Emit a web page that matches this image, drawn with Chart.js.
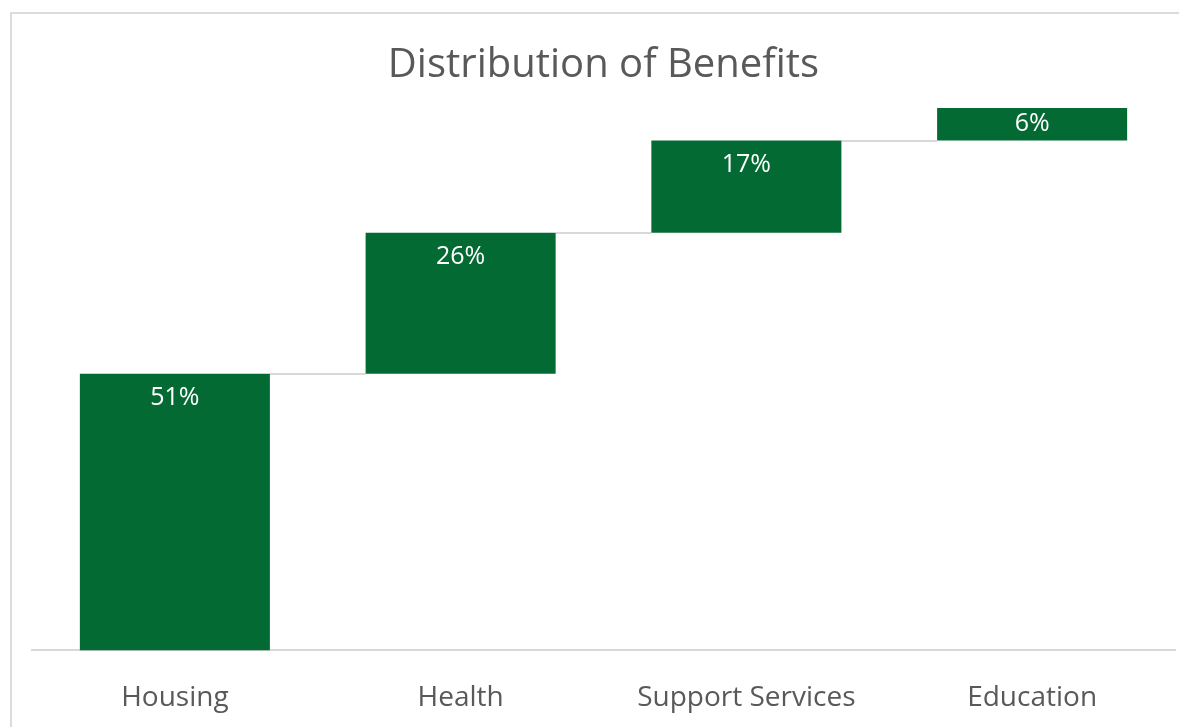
<!DOCTYPE html>
<html>
<head>
<meta charset="utf-8">
<script src="https://cdn.jsdelivr.net/npm/chart.js@4/dist/chart.umd.min.js"></script>
<style>
  html, body { margin: 0; padding: 0; background: #fff; overflow: hidden; }
  #frame { position: absolute; left: 10px; top: 12px; width: 1300px; height: 900px; border: 2px solid #dcdcdc; box-sizing: border-box; }
  #wrap { position: absolute; left: 0; top: 0; width: 1179px; height: 727px; }
</style>
</head>
<body>
<div id="frame"></div>
<div id="wrap"><canvas id="c" width="1179" height="727"></canvas></div>
<script>
const titleText = "Distribution of Benefits";
const categories = ["Housing", "Health", "Support Services", "Education"];
const values = [51, 26, 17, 6];

const barColor = "#036a34";
const textGray = "#595959";
const lineGray = "#d9d9d9";
const fontFamily = "'Open Sans', 'Noto Sans', sans-serif";

// floating ranges from cumulative sums
const ranges = [];
let acc = 0;
for (const v of values) { ranges.push([acc, acc + v]); acc += v; }

const connectorPlugin = {
  id: 'connectors',
  beforeDatasetsDraw(chart) {
    const meta = chart.getDatasetMeta(0);
    const ys = chart.scales.y;
    const ctx = chart.ctx;
    ctx.save();
    ctx.strokeStyle = lineGray;
    ctx.lineWidth = 2;
    for (let i = 0; i < meta.data.length - 1; i++) {
      const a = meta.data[i], b = meta.data[i + 1];
      const y = Math.round(ys.getPixelForValue(ranges[i][1]));
      ctx.beginPath();
      ctx.moveTo(a.x + a.width / 2, y);
      ctx.lineTo(b.x - b.width / 2, y);
      ctx.stroke();
    }
    ctx.restore();
  }
};

const labelPlugin = {
  id: 'barLabels',
  afterDatasetsDraw(chart) {
    const meta = chart.getDatasetMeta(0);
    const ys = chart.scales.y;
    const ctx = chart.ctx;
    ctx.save();
    ctx.fillStyle = "#ffffff";
    ctx.font = "25px " + fontFamily;
    ctx.textAlign = "center";
    ctx.textBaseline = "middle";
    meta.data.forEach((el, i) => {
      const top = ys.getPixelForValue(ranges[i][1]);
      const h = ys.getPixelForValue(ranges[i][0]) - top;
      const off = Math.min(24, h / 2);
      ctx.fillText(values[i] + "%", el.x, top + off);
    });
    ctx.restore();
  }
};

new Chart(document.getElementById('c'), {
  type: 'bar',
  data: {
    labels: categories,
    datasets: [{
      data: ranges,
      backgroundColor: barColor,
      borderWidth: 0,
      categoryPercentage: 1,
      barPercentage: 0.665
    }]
  },
  options: {
    responsive: false,
    animation: false,
    layout: { padding: { left: 32, right: 4, top: 0, bottom: -19 } },
    plugins: {
      legend: { display: false },
      tooltip: { enabled: false },
      title: {
        display: true,
        text: titleText,
        color: textGray,
        font: { family: fontFamily, size: 40, weight: 'normal', lineHeight: 1.2 },
        padding: { top: 42, bottom: 18 }
      }
    },
    scales: {
      x: {
        grid: { display: false, drawTicks: false },
        border: { display: true, color: lineGray, width: 2 },
        ticks: { color: textGray, padding: 31, font: { family: fontFamily, size: 28, lineHeight: 1.2 } }
      },
      y: {
        display: false,
        min: 0,
        max: 100
      }
    }
  },
  plugins: [connectorPlugin, labelPlugin]
});
</script>
</body>
</html>
